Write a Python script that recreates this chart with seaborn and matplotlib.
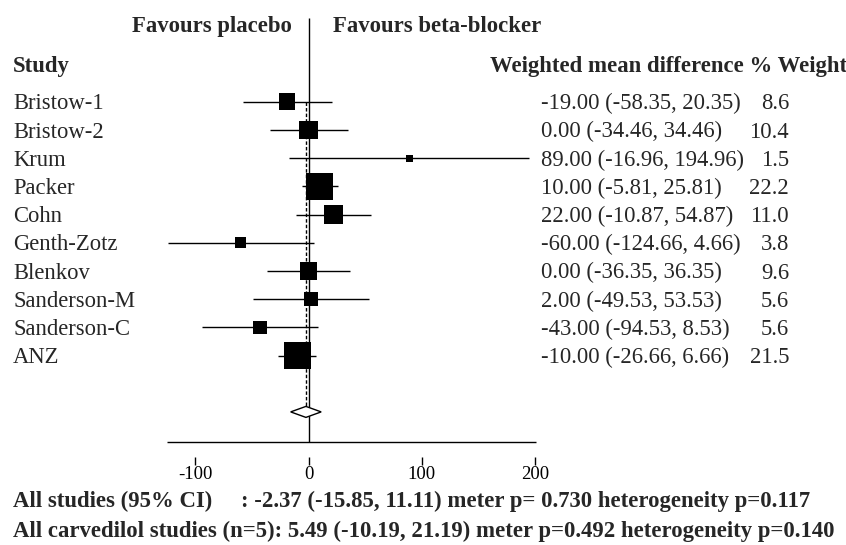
import numpy as np
import pandas as pd
import matplotlib
matplotlib.use("Agg")
import matplotlib.pyplot as plt
import seaborn as sns

# ---- data ----
studies = ["Bristow-1", "Bristow-2", "Krum", "Packer", "Cohn", "Genth-Zotz",
           "Blenkov", "Sanderson-M", "Sanderson-C", "ANZ"]
wmd = [-19.00, 0.00, 89.00, 10.00, 22.00, -60.00, 0.00, 2.00, -43.00, -10.00]
ci_low = [-58.35, -34.46, -16.96, -5.81, -10.87, -124.66, -36.35, -49.53, -94.53, -26.66]
ci_high = [20.35, 34.46, 194.96, 25.81, 54.87, 4.66, 36.35, 53.53, 8.53, 6.66]
weights = [8.6, 10.4, 1.5, 22.2, 11.0, 3.8, 9.6, 5.6, 5.6, 21.5]
pooled = -2.37
pooled_low = -15.85
pooled_high = 11.11
xticks = [-100, 0, 100, 200]
summary_lines = [
    "All studies (95% CI)     : -2.37 (-15.85, 11.11) meter p= 0.730 heterogeneity p=0.117",
    "All carvedilol studies (n=5): 5.49 (-10.19, 21.19) meter p=0.492 heterogeneity p=0.140",
]

df = pd.DataFrame({"study": studies, "wmd": wmd, "lo": ci_low, "hi": ci_high,
                   "weight": weights})
df["row"] = np.arange(len(df))

# ---- style ----
sns.set_style("white")
plt.rcParams["font.family"] = ["Liberation Serif", "DejaVu Serif"]

W, H = 846, 545
fig = plt.figure(figsize=(W / 100, H / 100), dpi=100)
ax = fig.add_axes([0, 0, 1, 1])

# pixel layout -> data mapping
x0_px, x_scale = 308.6, 1.1315     # pixel of value 0, px per unit
r0_px, r_step = 101.7, 28.2        # pixel of first row, px per row
ax.set_xlim((0 - x0_px) / x_scale, (W - x0_px) / x_scale)
ax.set_ylim((H - r0_px) / r_step, (0 - r0_px) / r_step)

def prow(py):
    return (py - r0_px) / r_step

diamond_row = len(df) + 1
axis_row = prow(441.7)

# CI lines
ax.hlines(df["row"], df["lo"], df["hi"], color="black", lw=1.0, zorder=2)

# zero line and axis line
ax.vlines(0, prow(18), axis_row, color="black", lw=1.0, zorder=1)
ax.hlines(axis_row, -125, 201, color="black", lw=1.0)

# dashed pooled line
h = 0.195
ax.vlines(pooled, 0, diamond_row - h, color="black", lw=1.0,
          linestyles=(0, (2.5, 1.5)), zorder=1)

# squares, area proportional to weight
k = 17.0
sns.scatterplot(data=df, x="wmd", y="row", size="weight",
                sizes=(k * min(weights), k * max(weights)),
                size_norm=(min(weights), max(weights)),
                marker="s", color="black", linewidth=0, legend=False,
                ax=ax, zorder=3)

# pooled diamond
ax.fill([pooled_low, pooled, pooled_high, pooled],
        [diamond_row, diamond_row - h, diamond_row, diamond_row + h],
        facecolor="white", edgecolor="black", lw=1.0, zorder=3)

# axes cosmetics
for s in ["left", "right", "top"]:
    ax.spines[s].set_visible(False)
ax.spines["bottom"].set_position(("data", prow(457)))
ax.spines["bottom"].set_visible(False)
ax.set_xticks(xticks)
ax.set_xticklabels([str(t) for t in xticks])
ax.set_yticks([])
ax.tick_params(axis="x", direction="out", length=5.8, width=1.0, pad=0.5,
               labelsize=13.5, colors="black", bottom=True)
ax.set_xlabel("")
ax.set_ylabel("")
ax.patch.set_alpha(0)

yt = ax.get_yaxis_transform()
fs = 16.25
fsb = 16.4
off = 0.27
for _, r in df.iterrows():
    ax.text(13 / W, r["row"] + off, r["study"], transform=yt, fontsize=fs,
            va="baseline", ha="left")
    ax.text(541 / W, r["row"] + off,
            f"{r['wmd']:.2f} ({r['lo']:.2f}, {r['hi']:.2f})",
            transform=yt, fontsize=fs, va="baseline", ha="left")
    ax.text(789 / W, r["row"] + off, f"{r['weight']:.1f}", transform=yt,
            fontsize=fs, va="baseline", ha="right")

# headers
ax.text(292 / W, prow(32), "Favours placebo", transform=yt, fontsize=fsb,
        fontweight="bold", ha="right", va="baseline")
ax.text(333 / W, prow(32), "Favours beta-blocker", transform=yt, fontsize=fsb,
        fontweight="bold", ha="left", va="baseline")
ax.text(13 / W, prow(71.5), "Study", transform=yt, fontsize=fsb,
        fontweight="bold", ha="left", va="baseline")
ax.text(490 / W, prow(71.5), "Weighted mean difference % Weight", transform=yt,
        fontsize=fsb, fontweight="bold", ha="left", va="baseline")

# summary lines
ax.text(13 / W, prow(507.5), summary_lines[0], transform=yt, fontsize=fsb,
        fontweight="bold", ha="left", va="baseline")
ax.text(13 / W, prow(536.5), summary_lines[1], transform=yt, fontsize=fsb,
        fontweight="bold", ha="left", va="baseline")

fig.savefig("out.png", dpi=100, facecolor="white")
